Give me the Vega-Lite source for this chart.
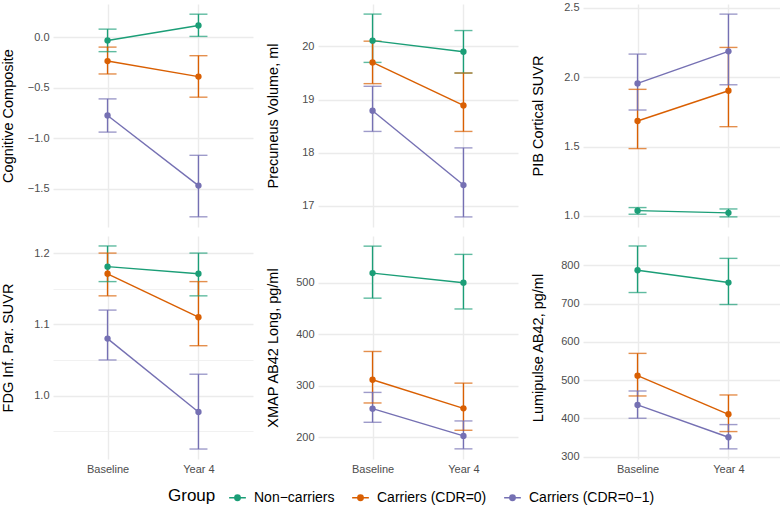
{
  "$schema": "https://vega.github.io/schema/vega-lite/v6.json",
  "padding": {"left": 0, "top": 1, "right": 0, "bottom": 4},
  "background": "white",
  "config": {
    "font": "Liberation Sans",
    "view": {"stroke": null},
    "axis": {"ticks": false, "domain": false, "gridColor": "#EBEBEB", "labelColor": "#4D4D4D", "labelFontSize": 11, "titleFontSize": 14.5, "titleFontWeight": "normal", "titleColor": "#000000", "labelPadding": 4, "labelOverlap": false}
  },
  "data": {"values": [
    {"measure": "cog", "time": "Baseline", "group": "Non−carriers", "mean": -0.033, "lo": -0.144, "hi": 0.079},
    {"measure": "cog", "time": "Year 4", "group": "Non−carriers", "mean": 0.115, "lo": 0.007, "hi": 0.227},
    {"measure": "cog", "time": "Baseline", "group": "Carriers (CDR=0)", "mean": -0.237, "lo": -0.365, "hi": -0.099},
    {"measure": "cog", "time": "Year 4", "group": "Carriers (CDR=0)", "mean": -0.391, "lo": -0.595, "hi": -0.184},
    {"measure": "cog", "time": "Baseline", "group": "Carriers (CDR=0−1)", "mean": -0.776, "lo": -0.941, "hi": -0.612},
    {"measure": "cog", "time": "Year 4", "group": "Carriers (CDR=0−1)", "mean": -1.471, "lo": -1.78, "hi": -1.171},

    {"measure": "prec", "time": "Baseline", "group": "Non−carriers", "mean": 20.11, "lo": 19.70, "hi": 20.61},
    {"measure": "prec", "time": "Year 4", "group": "Non−carriers", "mean": 19.90, "lo": 19.50, "hi": 20.30},
    {"measure": "prec", "time": "Baseline", "group": "Carriers (CDR=0)", "mean": 19.70, "lo": 19.30, "hi": 20.10},
    {"measure": "prec", "time": "Year 4", "group": "Carriers (CDR=0)", "mean": 18.89, "lo": 18.40, "hi": 19.50},
    {"measure": "prec", "time": "Baseline", "group": "Carriers (CDR=0−1)", "mean": 18.79, "lo": 18.40, "hi": 19.25},
    {"measure": "prec", "time": "Year 4", "group": "Carriers (CDR=0−1)", "mean": 17.39, "lo": 16.79, "hi": 18.09},

    {"measure": "pib", "time": "Baseline", "group": "Non−carriers", "mean": 1.038, "lo": 1.012, "hi": 1.06},
    {"measure": "pib", "time": "Year 4", "group": "Non−carriers", "mean": 1.022, "lo": 0.993, "hi": 1.05},
    {"measure": "pib", "time": "Baseline", "group": "Carriers (CDR=0)", "mean": 1.684, "lo": 1.485, "hi": 1.912},
    {"measure": "pib", "time": "Year 4", "group": "Carriers (CDR=0)", "mean": 1.902, "lo": 1.643, "hi": 2.214},
    {"measure": "pib", "time": "Baseline", "group": "Carriers (CDR=0−1)", "mean": 1.955, "lo": 1.763, "hi": 2.166},
    {"measure": "pib", "time": "Year 4", "group": "Carriers (CDR=0−1)", "mean": 2.186, "lo": 1.945, "hi": 2.454},

    {"measure": "fdg", "time": "Baseline", "group": "Non−carriers", "mean": 1.181, "lo": 1.160, "hi": 1.210},
    {"measure": "fdg", "time": "Year 4", "group": "Non−carriers", "mean": 1.171, "lo": 1.140, "hi": 1.200},
    {"measure": "fdg", "time": "Baseline", "group": "Carriers (CDR=0)", "mean": 1.171, "lo": 1.140, "hi": 1.200},
    {"measure": "fdg", "time": "Year 4", "group": "Carriers (CDR=0)", "mean": 1.110, "lo": 1.070, "hi": 1.160},
    {"measure": "fdg", "time": "Baseline", "group": "Carriers (CDR=0−1)", "mean": 1.080, "lo": 1.050, "hi": 1.120},
    {"measure": "fdg", "time": "Year 4", "group": "Carriers (CDR=0−1)", "mean": 0.977, "lo": 0.925, "hi": 1.030},

    {"measure": "xmap", "time": "Baseline", "group": "Non−carriers", "mean": 518.7, "lo": 470, "hi": 571},
    {"measure": "xmap", "time": "Year 4", "group": "Non−carriers", "mean": 500, "lo": 449, "hi": 555},
    {"measure": "xmap", "time": "Baseline", "group": "Carriers (CDR=0)", "mean": 311.6, "lo": 266.5, "hi": 366.5},
    {"measure": "xmap", "time": "Year 4", "group": "Carriers (CDR=0)", "mean": 256, "lo": 213.5, "hi": 305},
    {"measure": "xmap", "time": "Baseline", "group": "Carriers (CDR=0−1)", "mean": 255.5, "lo": 229, "hi": 287},
    {"measure": "xmap", "time": "Year 4", "group": "Carriers (CDR=0−1)", "mean": 202.6, "lo": 177.4, "hi": 231.6},

    {"measure": "lumi", "time": "Baseline", "group": "Non−carriers", "mean": 787, "lo": 728.7, "hi": 850.4},
    {"measure": "lumi", "time": "Year 4", "group": "Non−carriers", "mean": 754.8, "lo": 697.4, "hi": 818},
    {"measure": "lumi", "time": "Baseline", "group": "Carriers (CDR=0)", "mean": 511.3, "lo": 458.3, "hi": 569.6},
    {"measure": "lumi", "time": "Year 4", "group": "Carriers (CDR=0)", "mean": 410.4, "lo": 365.2, "hi": 460.9},
    {"measure": "lumi", "time": "Baseline", "group": "Carriers (CDR=0−1)", "mean": 434.8, "lo": 400, "hi": 471.3},
    {"measure": "lumi", "time": "Year 4", "group": "Carriers (CDR=0−1)", "mean": 350.4, "lo": 320, "hi": 383.5}
  ]},
  "columns": 3,
  "spacing": {"column": 12, "row": 9},
  "resolve": {"scale": {"y": "independent", "color": "shared"}, "axis": {"y": "independent"}, "legend": {"color": "shared"}},
  "concat": [
    {
      "width": 200, "height": 223,
      "transform": [{"filter": "datum.measure === 'cog'"}],
      "resolve": {"axis": {"y": "independent"}},
      "encoding": {
        "x": {"field": "time", "type": "nominal", "scale": {"type": "point", "padding": 0.6}, "axis": {"title": null, "labels": false, "grid": true, "gridWidth": 1.4}},
        "color": {"field": "group", "type": "nominal", "scale": {"domain": ["Non−carriers", "Carriers (CDR=0)", "Carriers (CDR=0−1)"], "range": ["#1B9E77", "#D95F02", "#7570B3"]},
          "legend": {"title": "Group", "orient": "none", "legendX": 115, "legendY": 484, "direction": "horizontal", "titleOrient": "left", "titleFontSize": 17, "titleFontWeight": "normal", "titleColor": "#000000", "labelFontSize": 14, "labelColor": "#000000", "symbolType": "M-1,0H1M0.32,0A0.32,0.32,0,1,1,-0.32,0A0.32,0.32,0,1,1,0.32,0Z", "symbolSize": 280, "symbolStrokeWidth": 1.5, "labelOffset": 7, "columnPadding": 14, "titlePadding": 12,
            "encode": {"symbols": {"update": {"fill": {"scale": "color", "field": "value"}, "stroke": {"scale": "color", "field": "value"}, "opacity": {"value": 1}, "fillOpacity": {"value": 1}}}}}}
      },
      "layer": [
        {"mark": {"type": "rule", "strokeWidth": 1.4}, "encoding": {"y": {"field": "lo", "type": "quantitative", "scale": {"domain": [-1.881, 0.328], "nice": false, "zero": false}, "axis": {"title": "Cognitive Composite", "values": [-1.5, -1, -0.5, 0], "format": ".1f", "gridWidth": 1.4, "minExtent": 30, "maxExtent": 30, "titlePadding": 8}}, "y2": {"field": "hi"}}},
        {"mark": {"type": "tick", "size": 18, "thickness": 1.4}, "encoding": {"y": {"field": "lo", "type": "quantitative", "axis": {"orient": "right", "title": null, "labels": false, "values": [-1.75, -1.25, -0.75, -0.25, 0.25], "gridWidth": 0.7, "minExtent": 0, "maxExtent": 0}}}},
        {"mark": {"type": "tick", "size": 18, "thickness": 1.4}, "encoding": {"y": {"field": "hi", "type": "quantitative", "axis": null}}},
        {"mark": {"type": "line", "strokeWidth": 1.4}, "encoding": {"y": {"field": "mean", "type": "quantitative", "axis": null}}},
        {"mark": {"type": "point", "filled": true, "size": 40, "opacity": 1}, "encoding": {"y": {"field": "mean", "type": "quantitative", "axis": null}}}
      ]
    },
    {
      "width": 200, "height": 223,
      "transform": [{"filter": "datum.measure === 'prec'"}],
      "encoding": {
        "x": {"field": "time", "type": "nominal", "scale": {"type": "point", "padding": 0.6}, "axis": {"title": null, "labels": false, "grid": true, "gridWidth": 1.4}},
        "color": {"field": "group", "type": "nominal"}
      },
      "layer": [
        {"mark": {"type": "rule", "strokeWidth": 1.4}, "encoding": {"y": {"field": "lo", "type": "quantitative", "scale": {"domain": [16.60, 20.80], "nice": false, "zero": false}, "axis": {"title": "Precuneus Volume, ml", "values": [17, 17.5, 18, 18.5, 19, 19.5, 20, 20.5], "labelExpr": "indexof([17,18,19,20], datum.value) >= 0 ? format(datum.value, 'd') : ''", "gridWidth": {"condition": {"test": "indexof([17,18,19,20], datum.value) >= 0", "value": 1.4}, "value": 0.7}, "minExtent": 30, "maxExtent": 30, "titlePadding": 8}}, "y2": {"field": "hi"}}},
        {"mark": {"type": "tick", "size": 18, "thickness": 1.4}, "encoding": {"y": {"field": "lo", "type": "quantitative"}}},
        {"mark": {"type": "tick", "size": 18, "thickness": 1.4}, "encoding": {"y": {"field": "hi", "type": "quantitative"}}},
        {"mark": {"type": "line", "strokeWidth": 1.4}, "encoding": {"y": {"field": "mean", "type": "quantitative"}}},
        {"mark": {"type": "point", "filled": true, "size": 40, "opacity": 1}, "encoding": {"y": {"field": "mean", "type": "quantitative"}}}
      ]
    },
    {
      "width": 200, "height": 223,
      "transform": [{"filter": "datum.measure === 'pib'"}],
      "encoding": {
        "x": {"field": "time", "type": "nominal", "scale": {"type": "point", "padding": 0.6}, "axis": {"title": null, "labels": false, "grid": true, "gridWidth": 1.4}},
        "color": {"field": "group", "type": "nominal"}
      },
      "layer": [
        {"mark": {"type": "rule", "strokeWidth": 1.4}, "encoding": {"y": {"field": "lo", "type": "quantitative", "scale": {"domain": [0.920, 2.527], "nice": false, "zero": false}, "axis": {"title": "PIB Cortical SUVR", "values": [1.0, 1.25, 1.5, 1.75, 2.0, 2.25, 2.5], "labelExpr": "indexof([1.0,1.5,2.0,2.5], datum.value) >= 0 ? format(datum.value, '.1f') : ''", "gridWidth": {"condition": {"test": "indexof([1.0,1.5,2.0,2.5], datum.value) >= 0", "value": 1.4}, "value": 0.7}, "minExtent": 30, "maxExtent": 30, "titlePadding": 8}}, "y2": {"field": "hi"}}},
        {"mark": {"type": "tick", "size": 18, "thickness": 1.4}, "encoding": {"y": {"field": "lo", "type": "quantitative"}}},
        {"mark": {"type": "tick", "size": 18, "thickness": 1.4}, "encoding": {"y": {"field": "hi", "type": "quantitative"}}},
        {"mark": {"type": "line", "strokeWidth": 1.4}, "encoding": {"y": {"field": "mean", "type": "quantitative"}}},
        {"mark": {"type": "point", "filled": true, "size": 40, "opacity": 1}, "encoding": {"y": {"field": "mean", "type": "quantitative"}}}
      ]
    },
    {
      "width": 200, "height": 223,
      "transform": [{"filter": "datum.measure === 'fdg'"}],
      "encoding": {
        "x": {"field": "time", "type": "nominal", "scale": {"type": "point", "padding": 0.6}, "axis": {"title": null, "labels": true, "labelAngle": 0, "grid": true, "gridWidth": 1.4}},
        "color": {"field": "group", "type": "nominal"}
      },
      "layer": [
        {"mark": {"type": "rule", "strokeWidth": 1.4}, "encoding": {"y": {"field": "lo", "type": "quantitative", "scale": {"domain": [0.911, 1.224], "nice": false, "zero": false}, "axis": {"title": "FDG Inf. Par. SUVR", "values": [0.95, 1.0, 1.05, 1.1, 1.15, 1.2], "labelExpr": "indexof([1.0,1.1,1.2], datum.value) >= 0 ? format(datum.value, '.1f') : ''", "gridWidth": {"condition": {"test": "indexof([1.0,1.1,1.2], datum.value) >= 0", "value": 1.4}, "value": 0.7}, "minExtent": 30, "maxExtent": 30, "titlePadding": 8}}, "y2": {"field": "hi"}}},
        {"mark": {"type": "tick", "size": 18, "thickness": 1.4}, "encoding": {"y": {"field": "lo", "type": "quantitative"}}},
        {"mark": {"type": "tick", "size": 18, "thickness": 1.4}, "encoding": {"y": {"field": "hi", "type": "quantitative"}}},
        {"mark": {"type": "line", "strokeWidth": 1.4}, "encoding": {"y": {"field": "mean", "type": "quantitative"}}},
        {"mark": {"type": "point", "filled": true, "size": 40, "opacity": 1}, "encoding": {"y": {"field": "mean", "type": "quantitative"}}}
      ]
    },
    {
      "width": 200, "height": 223,
      "transform": [{"filter": "datum.measure === 'xmap'"}],
      "encoding": {
        "x": {"field": "time", "type": "nominal", "scale": {"type": "point", "padding": 0.6}, "axis": {"title": null, "labels": true, "labelAngle": 0, "grid": true, "gridWidth": 1.4}},
        "color": {"field": "group", "type": "nominal"}
      },
      "layer": [
        {"mark": {"type": "rule", "strokeWidth": 1.4}, "encoding": {"y": {"field": "lo", "type": "quantitative", "scale": {"domain": [157.7, 590.7], "nice": false, "zero": false}, "axis": {"title": "XMAP AB42 Long, pg/ml", "values": [200, 250, 300, 350, 400, 450, 500, 550], "labelExpr": "indexof([200,300,400,500], datum.value) >= 0 ? format(datum.value, 'd') : ''", "gridWidth": {"condition": {"test": "indexof([200,300,400,500], datum.value) >= 0", "value": 1.4}, "value": 0.7}, "minExtent": 30, "maxExtent": 30, "titlePadding": 8}}, "y2": {"field": "hi"}}},
        {"mark": {"type": "tick", "size": 18, "thickness": 1.4}, "encoding": {"y": {"field": "lo", "type": "quantitative"}}},
        {"mark": {"type": "tick", "size": 18, "thickness": 1.4}, "encoding": {"y": {"field": "hi", "type": "quantitative"}}},
        {"mark": {"type": "line", "strokeWidth": 1.4}, "encoding": {"y": {"field": "mean", "type": "quantitative"}}},
        {"mark": {"type": "point", "filled": true, "size": 40, "opacity": 1}, "encoding": {"y": {"field": "mean", "type": "quantitative"}}}
      ]
    },
    {
      "width": 200, "height": 223,
      "transform": [{"filter": "datum.measure === 'lumi'"}],
      "encoding": {
        "x": {"field": "time", "type": "nominal", "scale": {"type": "point", "padding": 0.6}, "axis": {"title": null, "labels": true, "labelAngle": 0, "grid": true, "gridWidth": 1.4}},
        "color": {"field": "group", "type": "nominal"}
      },
      "layer": [
        {"mark": {"type": "rule", "strokeWidth": 1.4}, "encoding": {"y": {"field": "lo", "type": "quantitative", "scale": {"domain": [293.5, 876.5], "nice": false, "zero": false}, "axis": {"title": "Lumipulse AB42, pg/ml", "values": [300, 350, 400, 450, 500, 550, 600, 650, 700, 750, 800, 850], "labelExpr": "indexof([300,400,500,600,700,800], datum.value) >= 0 ? format(datum.value, 'd') : ''", "gridWidth": {"condition": {"test": "indexof([300,400,500,600,700,800], datum.value) >= 0", "value": 1.4}, "value": 0.7}, "minExtent": 30, "maxExtent": 30, "titlePadding": 8}}, "y2": {"field": "hi"}}},
        {"mark": {"type": "tick", "size": 18, "thickness": 1.4}, "encoding": {"y": {"field": "lo", "type": "quantitative"}}},
        {"mark": {"type": "tick", "size": 18, "thickness": 1.4}, "encoding": {"y": {"field": "hi", "type": "quantitative"}}},
        {"mark": {"type": "line", "strokeWidth": 1.4}, "encoding": {"y": {"field": "mean", "type": "quantitative"}}},
        {"mark": {"type": "point", "filled": true, "size": 40, "opacity": 1}, "encoding": {"y": {"field": "mean", "type": "quantitative"}}}
      ]
    }
  ]
}
